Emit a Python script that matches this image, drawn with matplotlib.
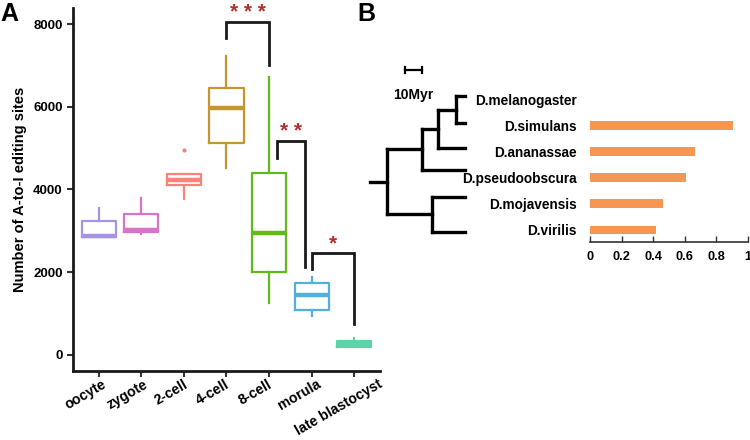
import matplotlib.pyplot as plt
import numpy as np

plt.rcParams['font.family'] = ['Liberation Sans', 'DejaVu Sans']
plt.rcParams['font.weight'] = 'bold'

# Panel A: box plot summaries
stages = ['oocyte', 'zygote', '2-cell', '4-cell', '8-cell', 'morula', 'late blastocyst']
q1 = [2850, 2970, 4110, 5125, 2005, 1090, 195]
med = [2880, 3020, 4230, 5970, 2950, 1450, 265]
q3 = [3240, 3410, 4375, 6450, 4400, 1740, 340]
whis_lo = [2850, 2925, 3770, 4520, 1255, 945, 195]
whis_hi = [3550, 3795, 4375, 7225, 6720, 1885, 410]
fliers = [[], [], [4955], [], [], [], []]
colors = ['#a794e0', '#d873c8', '#f8837b', '#c6962e', '#63b81a', '#52b0da', '#5cd3a8']

# significance brackets: (x left, x right, top, left foot, right foot, label)
brk_x1 = [4, 5.19, 6]
brk_x2 = [5, 5.84, 7]
brk_top = [8050, 5170, 2465]
brk_lfoot = [7660, 4760, 2080]
brk_rfoot = [7010, 2130, 750]
brk_lab = ['* * *', '* *', '*']

# Panel B: species, relative values, tree
species = ['D.melanogaster', 'D.simulans', 'D.ananassae', 'D.pseudoobscura',
           'D.mojavensis', 'D.virilis']
values = [0, 0.905, 0.665, 0.607, 0.462, 0.418]
tip_y = {'D.melanogaster': -0.11, 'D.simulans': 0.92, 'D.ananassae': 1.87,
         'D.pseudoobscura': 2.71, 'D.mojavensis': 3.74, 'D.virilis': 5.08}
# nested tree: (node age in Myr, children)
tree = (47, [(26, [(16, [(5.4, ['D.melanogaster', 'D.simulans']), 'D.ananassae']),
                   'D.pseudoobscura']),
             (20, ['D.mojavensis', 'D.virilis'])])
root_stub = 10
scale_myr = 10

fig = plt.figure(figsize=(7.5, 4.4), dpi=100)

# ---------- panel A ----------
ax = fig.add_axes([73 / 750, 69 / 440, 307 / 750, 363 / 440])
pos = np.arange(1, len(stages) + 1)
for i in range(len(stages)):
    st = [dict(med=med[i], q1=q1[i], q3=q3[i], whislo=whis_lo[i], whishi=whis_hi[i],
               fliers=fliers[i])]
    c = colors[i]
    ax.bxp(st, positions=[pos[i]], widths=0.8,
           boxprops=dict(color=c, linewidth=1.6),
           medianprops=dict(color=c, linewidth=3.2, solid_capstyle='butt'),
           whiskerprops=dict(color=c, linewidth=1.6),
           capprops=dict(linewidth=0),
           flierprops=dict(marker='o', markersize=2, markerfacecolor=c,
                           markeredgecolor=c))

for x1, x2, top, lf, rf, lab in zip(brk_x1, brk_x2, brk_top, brk_lfoot, brk_rfoot, brk_lab):
    ax.plot([x1, x1, x2, x2], [lf, top, top, rf], color='#1a1a1a', lw=2,
            solid_joinstyle='miter', clip_on=False)
    ax.annotate(lab, xy=((x1 + x2) / 2, top), xytext=(0, 0), textcoords='offset points',
                ha='center', va='bottom', color='#b0302c', fontsize=15, fontweight='bold',
                annotation_clip=False)

ax.set_xlim(0.39, 7.61)
ax.set_ylim(-387, 8387)
ax.set_yticks([0, 2000, 4000, 6000, 8000])
ax.set_xticks(pos)
ax.set_xticklabels([])
# stage labels drawn as rotated text under each tick (small horizontal nudges in pt)
label_dx = [2, 1.5, -0.5, -1.5, -1.5, 3.5, 17]
for p, lab, dx in zip(pos, stages, label_dx):
    ax.annotate(lab, xy=(p, 0), xycoords=ax.get_xaxis_transform(),
                xytext=(dx, -4.5), textcoords='offset points',
                rotation=30, ha='right', va='top', rotation_mode='anchor',
                fontsize=10.2, fontweight='bold', annotation_clip=False)
ax.tick_params(direction='out', length=4, width=1.5, color='#333333')
ax.tick_params(axis='y', labelsize=9.5)
ax.set_ylabel('Number of A-to-I editing sites', fontsize=10.5, fontweight='bold', labelpad=4)
for s in ['top', 'right']:
    ax.spines[s].set_visible(False)
for s in ['left', 'bottom']:
    ax.spines[s].set_linewidth(2)
    ax.spines[s].set_color('#1a1a1a')

# ---------- panel B: bars ----------
axb = fig.add_axes([590 / 750, 198 / 440, 158 / 750, 156 / 440])
ypos = np.arange(len(species))
axb.barh(ypos, values, height=0.34, color='#f79650')
axb.set_xlim(0, 1)
axb.set_ylim(5.46, -0.5)
axb.set_yticks(ypos)
axb.set_yticklabels(species, fontsize=9.8, fontweight='bold')
axb.set_xticks([0, 0.2, 0.4, 0.6, 0.8, 1])
axb.set_xticklabels(['0', '0.2', '0.4', '0.6', '0.8', '1'], fontsize=9.2, fontweight='bold')
axb.tick_params(axis='y', length=0, pad=9.4)
axb.tick_params(axis='x', direction='in', length=4, width=1, pad=6.5, color='#333333')
for s in ['top', 'right', 'left']:
    axb.spines[s].set_visible(False)
axb.spines['bottom'].set_linewidth(1.2)
axb.spines['bottom'].set_color('#333333')

# ---------- panel B: tree ----------
axt = fig.add_axes([360 / 750, 198 / 440, 110 / 750, 192 / 440])
axt.set_xlim(62.9, -3.0)
axt.set_ylim(5.46, -1.87)
axt.axis('off')
lw_tree = 2.4


def draw(node):
    if isinstance(node, str):
        return 0, tip_y[node]
    age, kids = node
    ys = []
    for k in kids:
        kage, ky = draw(k)
        axt.plot([age, kage], [ky, ky], color='black', lw=lw_tree, solid_capstyle='projecting')
        ys.append(ky)
    axt.plot([age, age], [min(ys), max(ys)], color='black', lw=lw_tree,
             solid_capstyle='projecting')
    return age, (min(ys) + max(ys)) / 2


root_age, root_y = draw(tree)
axt.plot([root_age + root_stub, root_age], [root_y, root_y], color='black', lw=lw_tree,
         clip_on=False)

# scale bar
sb_x = 36
axt.plot([sb_x, sb_x - scale_myr], [-1.1, -1.1], color='black', lw=1.6)
axt.plot([sb_x, sb_x], [-1.22, -0.98], color='black', lw=1.6)
axt.plot([sb_x - scale_myr, sb_x - scale_myr], [-1.22, -0.98], color='black', lw=1.6)
axt.text(sb_x - scale_myr / 2, -0.17, '%dMyr' % scale_myr, ha='center', va='center',
         fontsize=10, fontweight='bold')

fig.text(0.0, 0.995, 'A', fontsize=18, fontweight='bold', va='top', ha='left')
fig.text(357 / 750, 0.995, 'B', fontsize=18, fontweight='bold', va='top', ha='left')

fig.savefig('out.png', dpi=100)
